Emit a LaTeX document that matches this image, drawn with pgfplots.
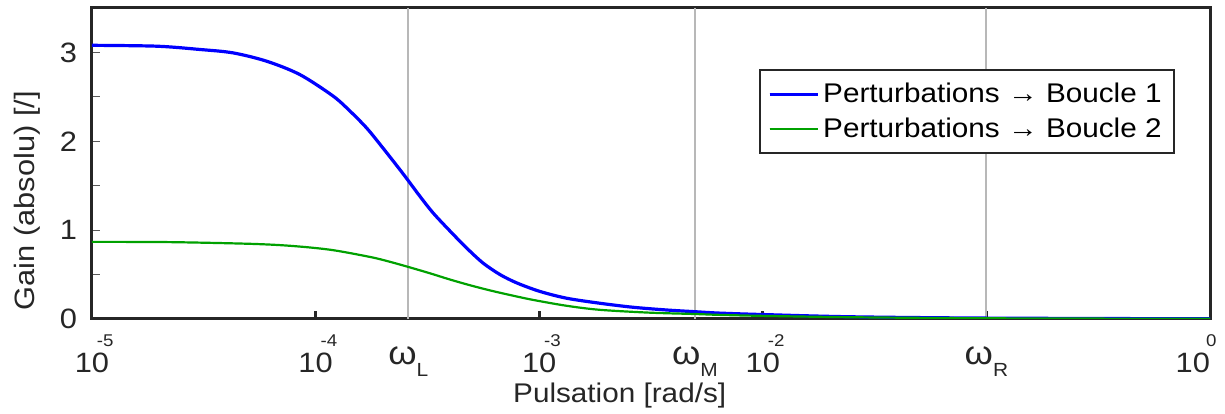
\documentclass[border=0pt]{standalone}
\usepackage{pgfplots}
\pgfplotsset{compat=1.18}
\usepackage{fontspec}
\setmainfont{Liberation Sans}[FakeStretch=1.1]
\definecolor{bl}{rgb}{0,0,1}
\definecolor{gr}{rgb}{0,0.63,0}
\definecolor{ax}{rgb}{0.15,0.15,0.15}
\newcommand{\tl}[1]{\makebox[0pt]{10}\raisebox{13pt}{\makebox[0pt][l]{\hspace*{2.5pt}\fontsize{8.5}{8.5}\selectfont #1}}}
\newcommand{\tlr}[1]{\makebox[0pt][r]{10}\raisebox{13pt}{\makebox[0pt][l]{\hspace*{-2pt}\fontsize{8.5}{8.5}\selectfont #1}}}
\newcommand{\om}[1]{\raisebox{4pt}{{\fontsize{16.5}{16.5}\selectfont ω}\raisebox{-6pt}{\fontsize{9.5}{9.5}\selectfont #1}}}
\begin{document}
\begin{tikzpicture}
\begin{axis}[
  scale only axis, width=559pt, height=155.5pt,
  xmode=log, log basis x=10,
  xmin=1e-5, xmax=1, ymin=0, ymax=3.5,
  xtick={1e-5,1e-4,1e-3,1e-2,1e-1,1},
  xticklabels={\tl{-5},\tl{-4},\tl{-3},\tl{-2},{},\tlr{0}},
  minor xtick={},
  ytick={0,1,2,3}, yticklabels={0,1,2,3},
  minor ytick={0.5,1.5,2.5},
  tick pos=left, tick align=inside,
  major tick length=4pt, minor tick length=4pt,
  xtick style={line width=1.5pt, color=ax},
  ytick style={line width=0.5pt, color=black!65},
  minor tick style={line width=0.5pt, color=black!65},
  axis line style={line width=1.5pt, color=ax},
  xticklabel style={anchor=base, yshift=-27pt, font=\fontsize{14}{14}\selectfont, text=ax},
  yticklabel style={font=\fontsize{14}{14}\selectfont, text=ax, xshift=-4pt},
  extra x ticks={2.6e-4,4.97e-3,1e-1},
  extra x tick labels={\om{L},\om{M},\om{R}},
  extra x tick style={grid=major, major grid style={black!28, line width=1pt}, major tick length=0pt},
  xlabel={Pulsation [rad/s]},
  ylabel={Gain (absolu) [/]},
  xlabel style={at={(rel axis cs:0.472,-0.2701)}, anchor=base, font=\fontsize{13.5}{14}\selectfont, text=ax},
  ylabel style={at={(rel axis cs:-0.0581,0.38)}, anchor=center, font=\fontsize{14}{15}\selectfont, text=ax},
  legend style={at={(rel axis cs:0.5966,0.804)}, anchor=north west, draw=ax, line width=1pt,
    inner xsep=4pt, inner ysep=4.5pt, row sep=2pt, font=\fontsize{13.5}{15}\selectfont, cells={anchor=west}},
  legend image code/.code={\draw[#1] (0pt,0pt) -- (19pt,0pt); \path (0pt,0pt) -- (24pt,0pt);},
]
\addplot[bl, line width=1.6pt, smooth, tension=0.5] coordinates {
(1e-5,3.08)(1.953e-5,3.07)(3.041e-5,3.033)(4.271e-5,2.995)(6.061e-5,2.90)(8.514e-5,2.75)
(1.196e-4,2.51)(1.425e-4,2.34)(1.698e-4,2.145)(2.001e-4,1.924)(2.384e-4,1.68)(2.6e-4,1.555)
(2.93e-4,1.38)(3.35e-4,1.195)(3.992e-4,0.99)(4.755e-4,0.795)(5.607e-4,0.63)(6.679e-4,0.50)
(7.958e-4,0.405)(1.008e-3,0.31)(1.331e-3,0.233)(1.87e-3,0.177)(2.627e-3,0.132)(3.727e-3,0.101)
(4.973e-3,0.082)(6.436e-3,0.066)(1.002e-2,0.05)(2.455e-2,0.025)(1e-1,0.01)(1,0.002)};
\addlegendentry{Perturbations → Boucle 1}
\addplot[gr, line width=1.1pt, smooth, tension=0.5] coordinates {
(1e-5,0.868)(2.232e-5,0.865)(5.087e-5,0.846)(7.762e-5,0.823)(1.172e-4,0.778)(1.769e-4,0.696)
(2.14e-4,0.645)(2.58e-4,0.588)(3.24e-4,0.515)(3.98e-4,0.445)(4.9e-4,0.38)(6.02e-4,0.322)
(7.4e-4,0.27)(9.38e-4,0.215)(1.331e-3,0.148)(1.87e-3,0.103)(3.13e-3,0.071)(4.973e-3,0.056)
(6.436e-3,0.046)(1.002e-2,0.035)(2.455e-2,0.02)(1e-1,0.008)(1,0.002)};
\addlegendentry{Perturbations → Boucle 2}
\end{axis}
\pgfresetboundingbox
\path[use as bounding box] ([xshift=-46pt,yshift=-47.5pt]current axis.south west) rectangle ([xshift=7.5pt,yshift=4pt]current axis.north east);
\end{tikzpicture}
\end{document}
